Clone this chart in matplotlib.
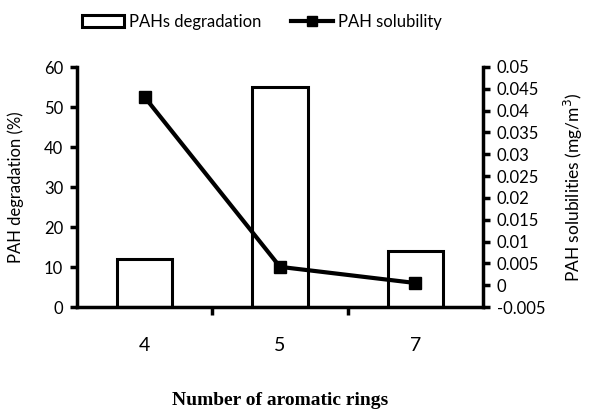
import numpy as np
import matplotlib.pyplot as plt
from matplotlib.lines import Line2D
from matplotlib.patches import Patch

rings = ['4', '5', '7']
degradation = [12, 55, 14]
solubility = [0.0431, 0.0042, 0.0005]

plt.rcParams['font.family'] = ['Lato', 'DejaVu Sans']

fig = plt.figure(figsize=(5.94, 4.19), dpi=100)
ax = fig.add_axes([77 / 594, 1 - 307 / 419, 406 / 594, 240 / 419])
ax2 = ax.twinx()

x = np.arange(len(rings))
ax.bar(x, degradation, width=0.41, facecolor='white', edgecolor='black', linewidth=2.2, zorder=2)
ax2.plot(x, solubility, color='black', linewidth=3, marker='s', markersize=9, zorder=3)

ax.set_xlim(-0.5, 2.5)
ax.set_ylim(0, 60)
ax.set_yticks(range(0, 61, 10))
ax2.set_ylim(-0.005, 0.05)
ax2.set_yticks(np.arange(-0.005, 0.0501, 0.005))
ax2.set_yticklabels(['-0.005', '0', '0.005', '0.01', '0.015', '0.02', '0.025', '0.03',
                     '0.035', '0.04', '0.045', '0.05'])

ax.set_xticks([0.5, 1.5])
ax.set_xticklabels([])
ax.tick_params(axis='x', length=6, width=2.5, direction='out')
for xi, lab in zip(x, rings):
    ax.text(xi, -0.16, lab, transform=ax.get_xaxis_transform(), ha='center', va='center', fontsize=14)

for a in (ax, ax2):
    a.spines['top'].set_visible(False)
    for s in ('left', 'right', 'bottom'):
        a.spines[s].set_linewidth(2.5)
ax.spines['right'].set_visible(False)
ax2.spines['left'].set_visible(False)
ax2.spines['bottom'].set_visible(False)

ax.tick_params(axis='y', length=5, width=2.5, labelsize=12, pad=5)
ax2.tick_params(axis='y', length=5, width=2.5, labelsize=12, pad=5)

ax.set_ylabel('PAH degradation (%)', fontsize=12, labelpad=14)
ax2.set_ylabel('PAH solubilities (mg/m$^3$)', fontsize=12.5, labelpad=12)
ax.set_xlabel('Number of aromatic rings', fontsize=14, fontweight='bold',
              family='Liberation Serif', labelpad=52)

handles = [Patch(facecolor='white', edgecolor='black', linewidth=2.2),
           Line2D([], [], color='black', linewidth=3, marker='s', markersize=7)]
fig.legend(handles, ['PAHs degradation', 'PAH solubility'], loc='center',
           bbox_to_anchor=(262 / 594, 1 - 22 / 419), ncol=2, frameon=False, fontsize=12,
           handlelength=2.5, columnspacing=1.8, handletextpad=0.3)

fig.savefig('out.png', dpi=100)
